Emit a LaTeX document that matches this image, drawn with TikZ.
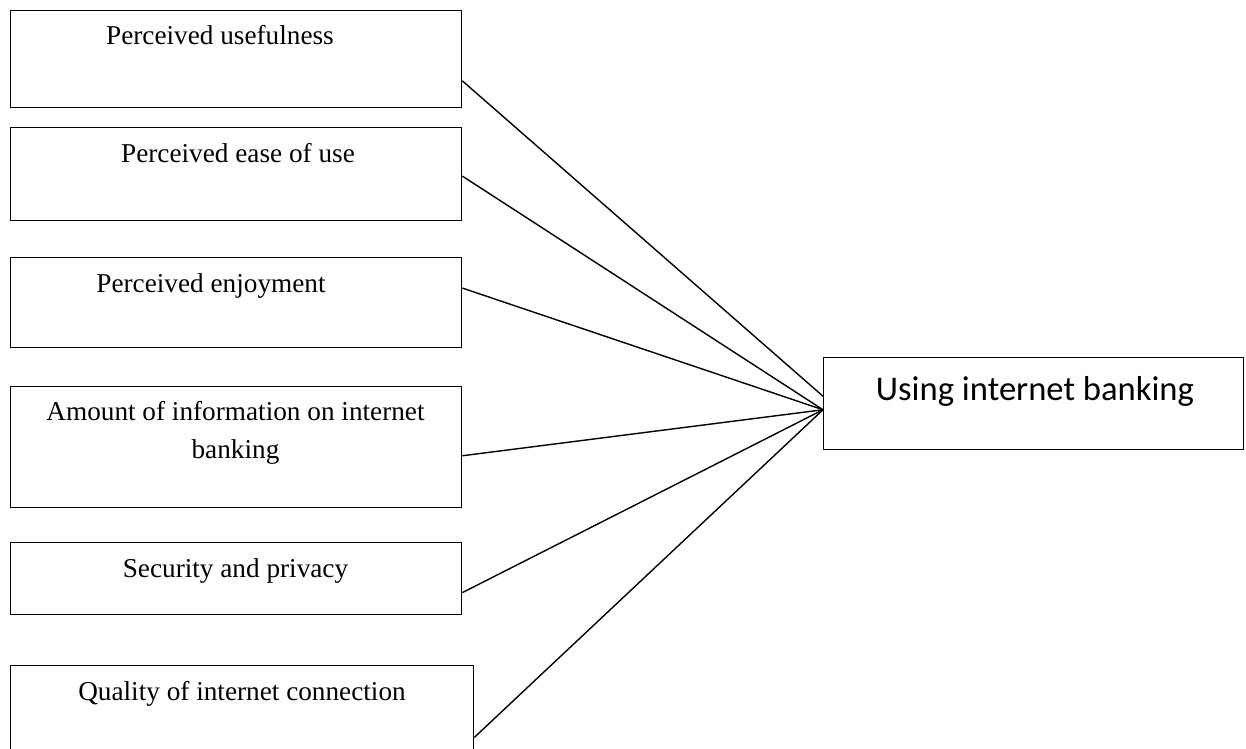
\documentclass[tikz,border=0pt]{standalone}
\usepackage{fontspec}
\setmainfont{Liberation Serif}
\newfontfamily\calfont{Carlito}
\usetikzlibrary{calc}

\begin{document}
\begin{tikzpicture}[x=0.02cm, y=-0.02cm, line width=0.8pt] %one unit is one pixel of the reference
\tikzstyle{factor} = [draw, rectangle, anchor=north west, minimum width=9.02cm, inner sep=0pt]
\tikzstyle{lbl} = [anchor=base, align=center, inner sep=0pt, font=\fontsize{15.5}{21.6}\selectfont]
\useasboundingbox (0,0) rectangle (1246,749);
\node[factor, minimum height=1.94cm] (b1) at (10,10) {};
\node[factor, minimum height=1.86cm] (b2) at (10,127) {};
\node[factor, minimum height=1.8cm] (b3) at (10,257) {};
\node[factor, minimum height=2.42cm] (b4) at (10,386) {};
\node[factor, minimum height=1.44cm] (b5) at (10,542) {};
\node[factor, minimum height=2.2cm, minimum width=9.26cm] (b6) at (10,665) {};
\node[lbl] (t1) at (220,45) {Perceived usefulness};
\node[lbl] (t2) at (238,163) {Perceived ease of use};
\node[lbl] (t3) at (211,293) {Perceived enjoyment};
\node[lbl] (t4) at (235.5,458) {Amount of information on internet\\banking}; %base = last line
\node[lbl] (t5) at (235.5,577) {Security and privacy};
\node[lbl] (t6) at (242,700) {Quality of internet connection};
\node[draw, rectangle, anchor=north west, minimum width=8.4cm, minimum height=1.84cm, inner sep=0pt] (u) at (823,357) {};
\node[anchor=base, inner sep=0pt, font=\calfont\fontsize{19.7}{24}\selectfont] (tu) at (1035,400) {Using internet banking};
\coordinate (hub) at ($(u.north west)!.565!(u.south west)$);
\draw ($(b1.north east)!.72!(b1.south east)$) -- ($(u.north west)!.42!(u.south west)$);
\foreach \b/\f in {b2/.52, b3/.34, b4/.57, b5/.69, b6/.65}
\draw ($(\b.north east)!\f!(\b.south east)$) -- (hub);
\end{tikzpicture}
\end{document}
